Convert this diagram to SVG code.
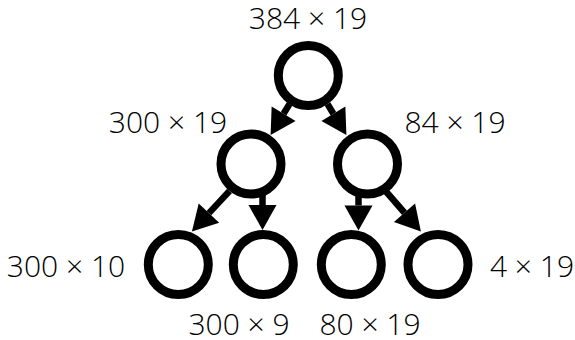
<svg xmlns="http://www.w3.org/2000/svg" width="575" height="340" viewBox="0 0 575 340">
  <style>
    .node { fill: #ffffff; stroke: #000000; stroke-width: 9; }
    .edge { fill: none; stroke: #000000; stroke-width: 6.5; marker-end: url(#head); }
    .label { font-family: "Open Sans", "Noto Sans", "Liberation Sans", sans-serif; font-weight: 300; font-size: 30px; fill: #000000; text-anchor: middle; }
  </style>
  <defs>
    <marker id="head" markerUnits="userSpaceOnUse" viewBox="0 -14 25 28" markerWidth="25" markerHeight="28" refX="0" refY="0" orient="auto" overflow="visible">
      <path d="M0,-14 L25,0 L0,14 z" fill="#000000"/>
    </marker>
  </defs>

  <g id="edges">
    <line class="edge" x1="289.5" y1="104" x2="283.6" y2="113.7"/>
    <line class="edge" x1="327.5" y1="104" x2="333.4" y2="113.7"/>
    <line class="edge" x1="229.5" y1="191" x2="208.95" y2="213.1"/>
    <line class="edge" x1="262.5" y1="195" x2="262.5" y2="205"/>
    <line class="edge" x1="358.5" y1="196" x2="358.5" y2="205.5"/>
    <line class="edge" x1="386" y1="191.5" x2="404.5" y2="212.75"/>
  </g>

  <g id="n-root">
    <circle class="node" cx="308.3" cy="75.5" r="30"/>
    <text class="label" x="308" y="29">384 × 19</text>
  </g>
  <g id="n-left">
    <circle class="node" cx="251" cy="164" r="30"/>
    <text class="label" x="168" y="133">300 × 19</text>
  </g>
  <g id="n-right">
    <circle class="node" cx="367.5" cy="164" r="30"/>
    <text class="label" x="455" y="133">84 × 19</text>
  </g>
  <g id="n-ll">
    <circle class="node" cx="178.3" cy="264.5" r="30"/>
    <text class="label" x="66" y="277">300 × 10</text>
  </g>
  <g id="n-lr">
    <circle class="node" cx="263.3" cy="264.5" r="30"/>
    <text class="label" x="239" y="335">300 × 9</text>
  </g>
  <g id="n-rl">
    <circle class="node" cx="351.3" cy="264.5" r="30"/>
    <text class="label" x="370" y="335">80 × 19</text>
  </g>
  <g id="n-rr">
    <circle class="node" cx="438" cy="264.5" r="30"/>
    <text class="label" x="532" y="277">4 × 19</text>
  </g>
</svg>
